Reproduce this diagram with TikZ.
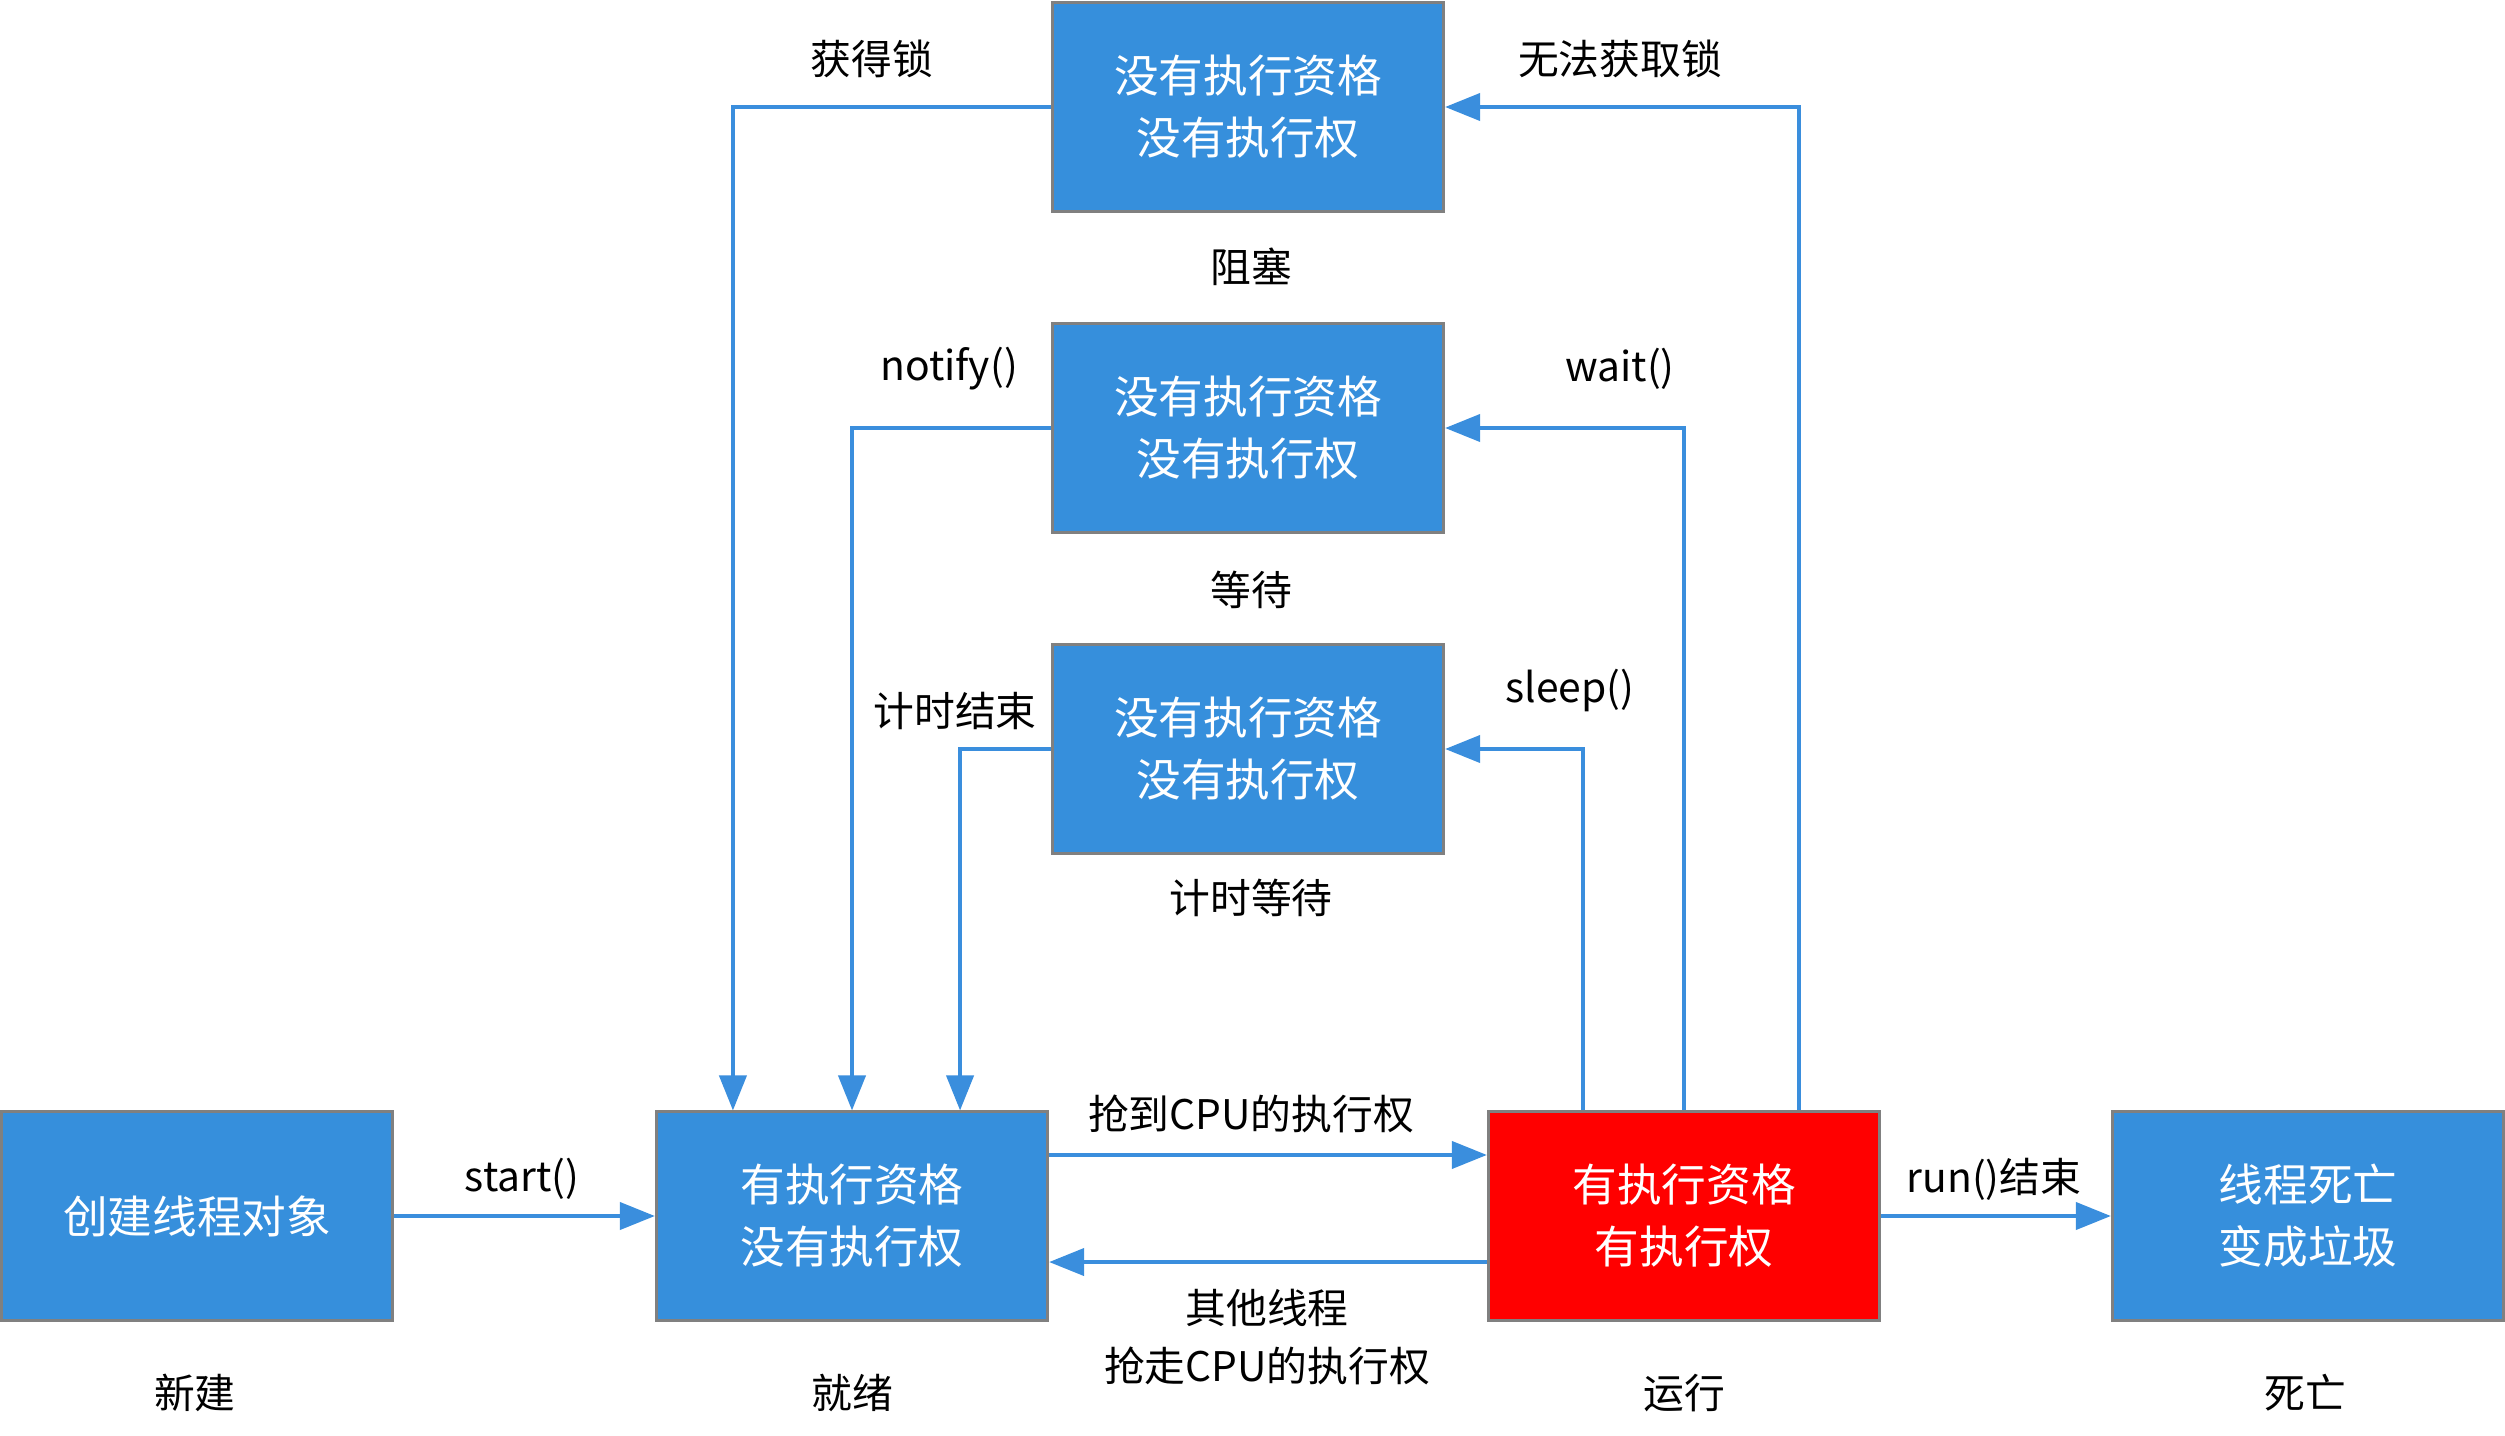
\documentclass[tikz,border=0pt]{standalone}
\usepackage{fontspec}
\newfontfamily\cjk{Noto Sans CJK SC}
\usetikzlibrary{arrows.meta}
\definecolor{boxblue}{HTML}{368FDC}
\definecolor{lineblue}{HTML}{3A8EDD}
\definecolor{boxred}{HTML}{FF0000}
\definecolor{rimgray}{HTML}{808080}
\tikzset{
  statebox/.style={draw=rimgray, line width=0.85pt, fill=boxblue, text=white,
    minimum width=3.91cm, minimum height=2.08cm, inner sep=0pt, align=center,
    font=\cjk\fontsize{12.7}{17.6}\selectfont},
  lbl/.style={text=black, inner sep=0pt, align=center,
    font=\cjk\fontsize{11.6}{16.5}\selectfont},
  arr/.style={draw=lineblue, line width=1.15pt,
    -{Triangle[length=0.35cm, width=0.27cm, fill=lineblue]}}
}
\begin{document}
\begin{tikzpicture}[x=0.01cm, y=-0.01cm]
\useasboundingbox (0,0) rectangle (2505,1436);
% state boxes
\node[statebox] (blocked) at (1248,107) {没有执行资格\\没有执行权};
\node[statebox] (waiting) at (1248,428) {没有执行资格\\没有执行权};
\node[statebox] (timed) at (1248,749) {没有执行资格\\没有执行权};
\node[statebox] (create) at (197,1216) {创建线程对象};
\node[statebox] (ready) at (852,1216) {有执行资格\\没有执行权};
\node[statebox, fill=boxred] (running) at (1684,1216) {有执行资格\\有执行权};
\node[statebox] (dead) at (2308,1216) {线程死亡\\变成垃圾};
% state captions
\node[lbl] (capblocked) at (1251,267) {阻塞};
\node[lbl] (capwaiting) at (1251,590) {等待};
\node[lbl] (captimed) at (1251,898) {计时等待};
\node[lbl] (capnew) at (195,1393) {新建};
\node[lbl] (capready) at (852,1393) {就绪};
\node[lbl] (caprun) at (1684,1393) {运行};
\node[lbl] (capdead) at (2305,1393) {死亡};
% connector labels
\node[lbl] (lgetlock) at (872,59) {获得锁};
\node[lbl] (lnolock) at (1620,59) {无法获取锁};
\node[lbl] (lnotify) at (949,369) {notify()};
\node[lbl] (lwait) at (1620,369) {wait()};
\node[lbl] (ltimeup) at (955,711) {计时结束};
\node[lbl] (lsleep) at (1570,690) {sleep()};
\node[lbl] (lgrab) at (1251,1114) {抢到CPU的执行权};
\node[lbl] (lpre) at (1267,1337) {其他线程\\抢走CPU的执行权};
\node[lbl] (lstart) at (522,1179) {start()};
\node[lbl] (lrunend) at (1994,1179) {run()结束};
% connectors
\draw[arr] (create.east) -- (ready.west);
\draw[arr] ([yshift=0.61cm]ready.east) -- ([yshift=0.61cm]running.west);
\draw[arr] ([yshift=-0.46cm]running.west) -- ([yshift=-0.46cm]ready.east);
\draw[arr] (running.east) -- (dead.west);
\draw[arr] (blocked.west) -| ([xshift=0.78cm]ready.north west);
\draw[arr] (waiting.west) -| (ready.north);
\draw[arr] (timed.west) -| ([xshift=1.08cm]ready.north);
\draw[arr] ([xshift=-1.01cm]running.north) |- (timed.east);
\draw[arr] (running.north) |- (waiting.east);
\draw[arr] ([xshift=1.15cm]running.north) |- (blocked.east);
\end{tikzpicture}
\end{document}
